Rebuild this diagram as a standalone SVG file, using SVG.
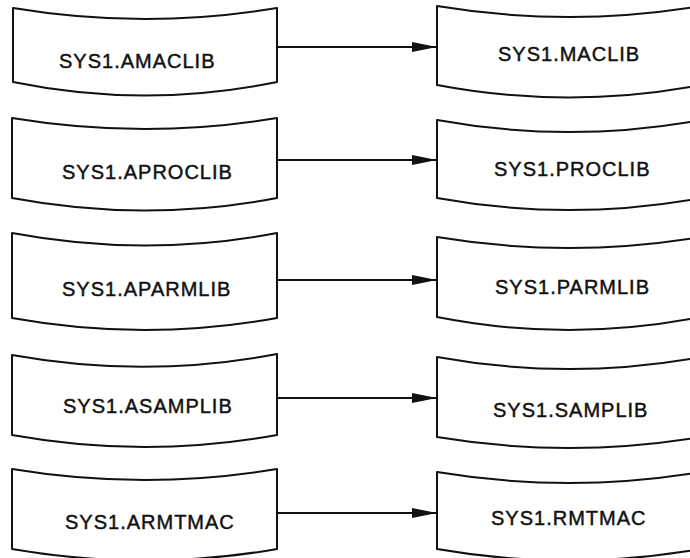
<svg xmlns="http://www.w3.org/2000/svg" width="690" height="558" viewBox="0 0 690 558">
<defs>
<style>
.box{fill:#fff;stroke:#111;stroke-width:2;stroke-linejoin:round}
.lbl{font-family:"Liberation Sans",Arial,sans-serif;font-size:20px;letter-spacing:1px;fill:#111;stroke:#111;stroke-width:0.45}
.conn{stroke:#111;stroke-width:2;fill:none}
</style>
<marker id="arr" markerUnits="userSpaceOnUse" markerWidth="26" markerHeight="12" refX="25" refY="5" orient="auto">
<path d="M0,0 L25,5 L0,10 z" fill="#111"/>
</marker>
</defs>
<rect width="690" height="558" fill="#fff"/>
<g id="connectors">
<line class="conn" x1="277" y1="47" x2="437" y2="47" marker-end="url(#arr)"/>
<line class="conn" x1="277" y1="160" x2="437" y2="160" marker-end="url(#arr)"/>
<line class="conn" x1="277" y1="280" x2="437" y2="280" marker-end="url(#arr)"/>
<line class="conn" x1="277" y1="398" x2="437" y2="398" marker-end="url(#arr)"/>
<line class="conn" x1="277" y1="513" x2="437" y2="513" marker-end="url(#arr)"/>
</g>
<g id="n-amaclib">
<path class="box" d="M13,8 Q145,30 277,8 L277,82 Q145,109 13,82 Z"/>
<text class="lbl" x="59" y="68">SYS1.AMACLIB</text>
</g>
<g id="n-aproclib">
<path class="box" d="M12,118 Q145,140 277,118 L277,198 Q145,223 12,198 Z"/>
<text class="lbl" x="62" y="179">SYS1.APROCLIB</text>
</g>
<g id="n-aparmlib">
<path class="box" d="M12,233 Q145,258 277,233 L277,318 Q145,342 12,318 Z"/>
<text class="lbl" x="62" y="296">SYS1.APARMLIB</text>
</g>
<g id="n-asamplib">
<path class="box" d="M12,355 Q145,379 277,354 L277,435 Q145,459 12,435 Z"/>
<text class="lbl" x="63" y="413">SYS1.ASAMPLIB</text>
</g>
<g id="n-armtmac">
<path class="box" d="M12,469 Q145,491 277,469 L277,549 Q145,572 12,549 Z"/>
<text class="lbl" x="65" y="529">SYS1.ARMTMAC</text>
</g>
<g id="n-maclib">
<path class="box" d="M437,6 Q569,28 701,6 L701,85 Q569,110 437,85 Z"/>
<text class="lbl" x="498" y="61">SYS1.MACLIB</text>
</g>
<g id="n-proclib">
<path class="box" d="M437,120 Q569,144 701,120 L701,198 Q569,222 437,198 Z"/>
<text class="lbl" x="494" y="176">SYS1.PROCLIB</text>
</g>
<g id="n-parmlib">
<path class="box" d="M437,237 Q569,259 701,237 L701,317 Q569,343 437,317 Z"/>
<text class="lbl" x="495" y="294">SYS1.PARMLIB</text>
</g>
<g id="n-samplib">
<path class="box" d="M437,357 Q569,381 701,357 L701,437 Q569,459 437,437 Z"/>
<text class="lbl" x="493" y="417">SYS1.SAMPLIB</text>
</g>
<g id="n-rmtmac">
<path class="box" d="M437,472 Q569,494 701,472 L701,549 Q569,572 437,549 Z"/>
<text class="lbl" x="491" y="525">SYS1.RMTMAC</text>
</g>
</svg>
